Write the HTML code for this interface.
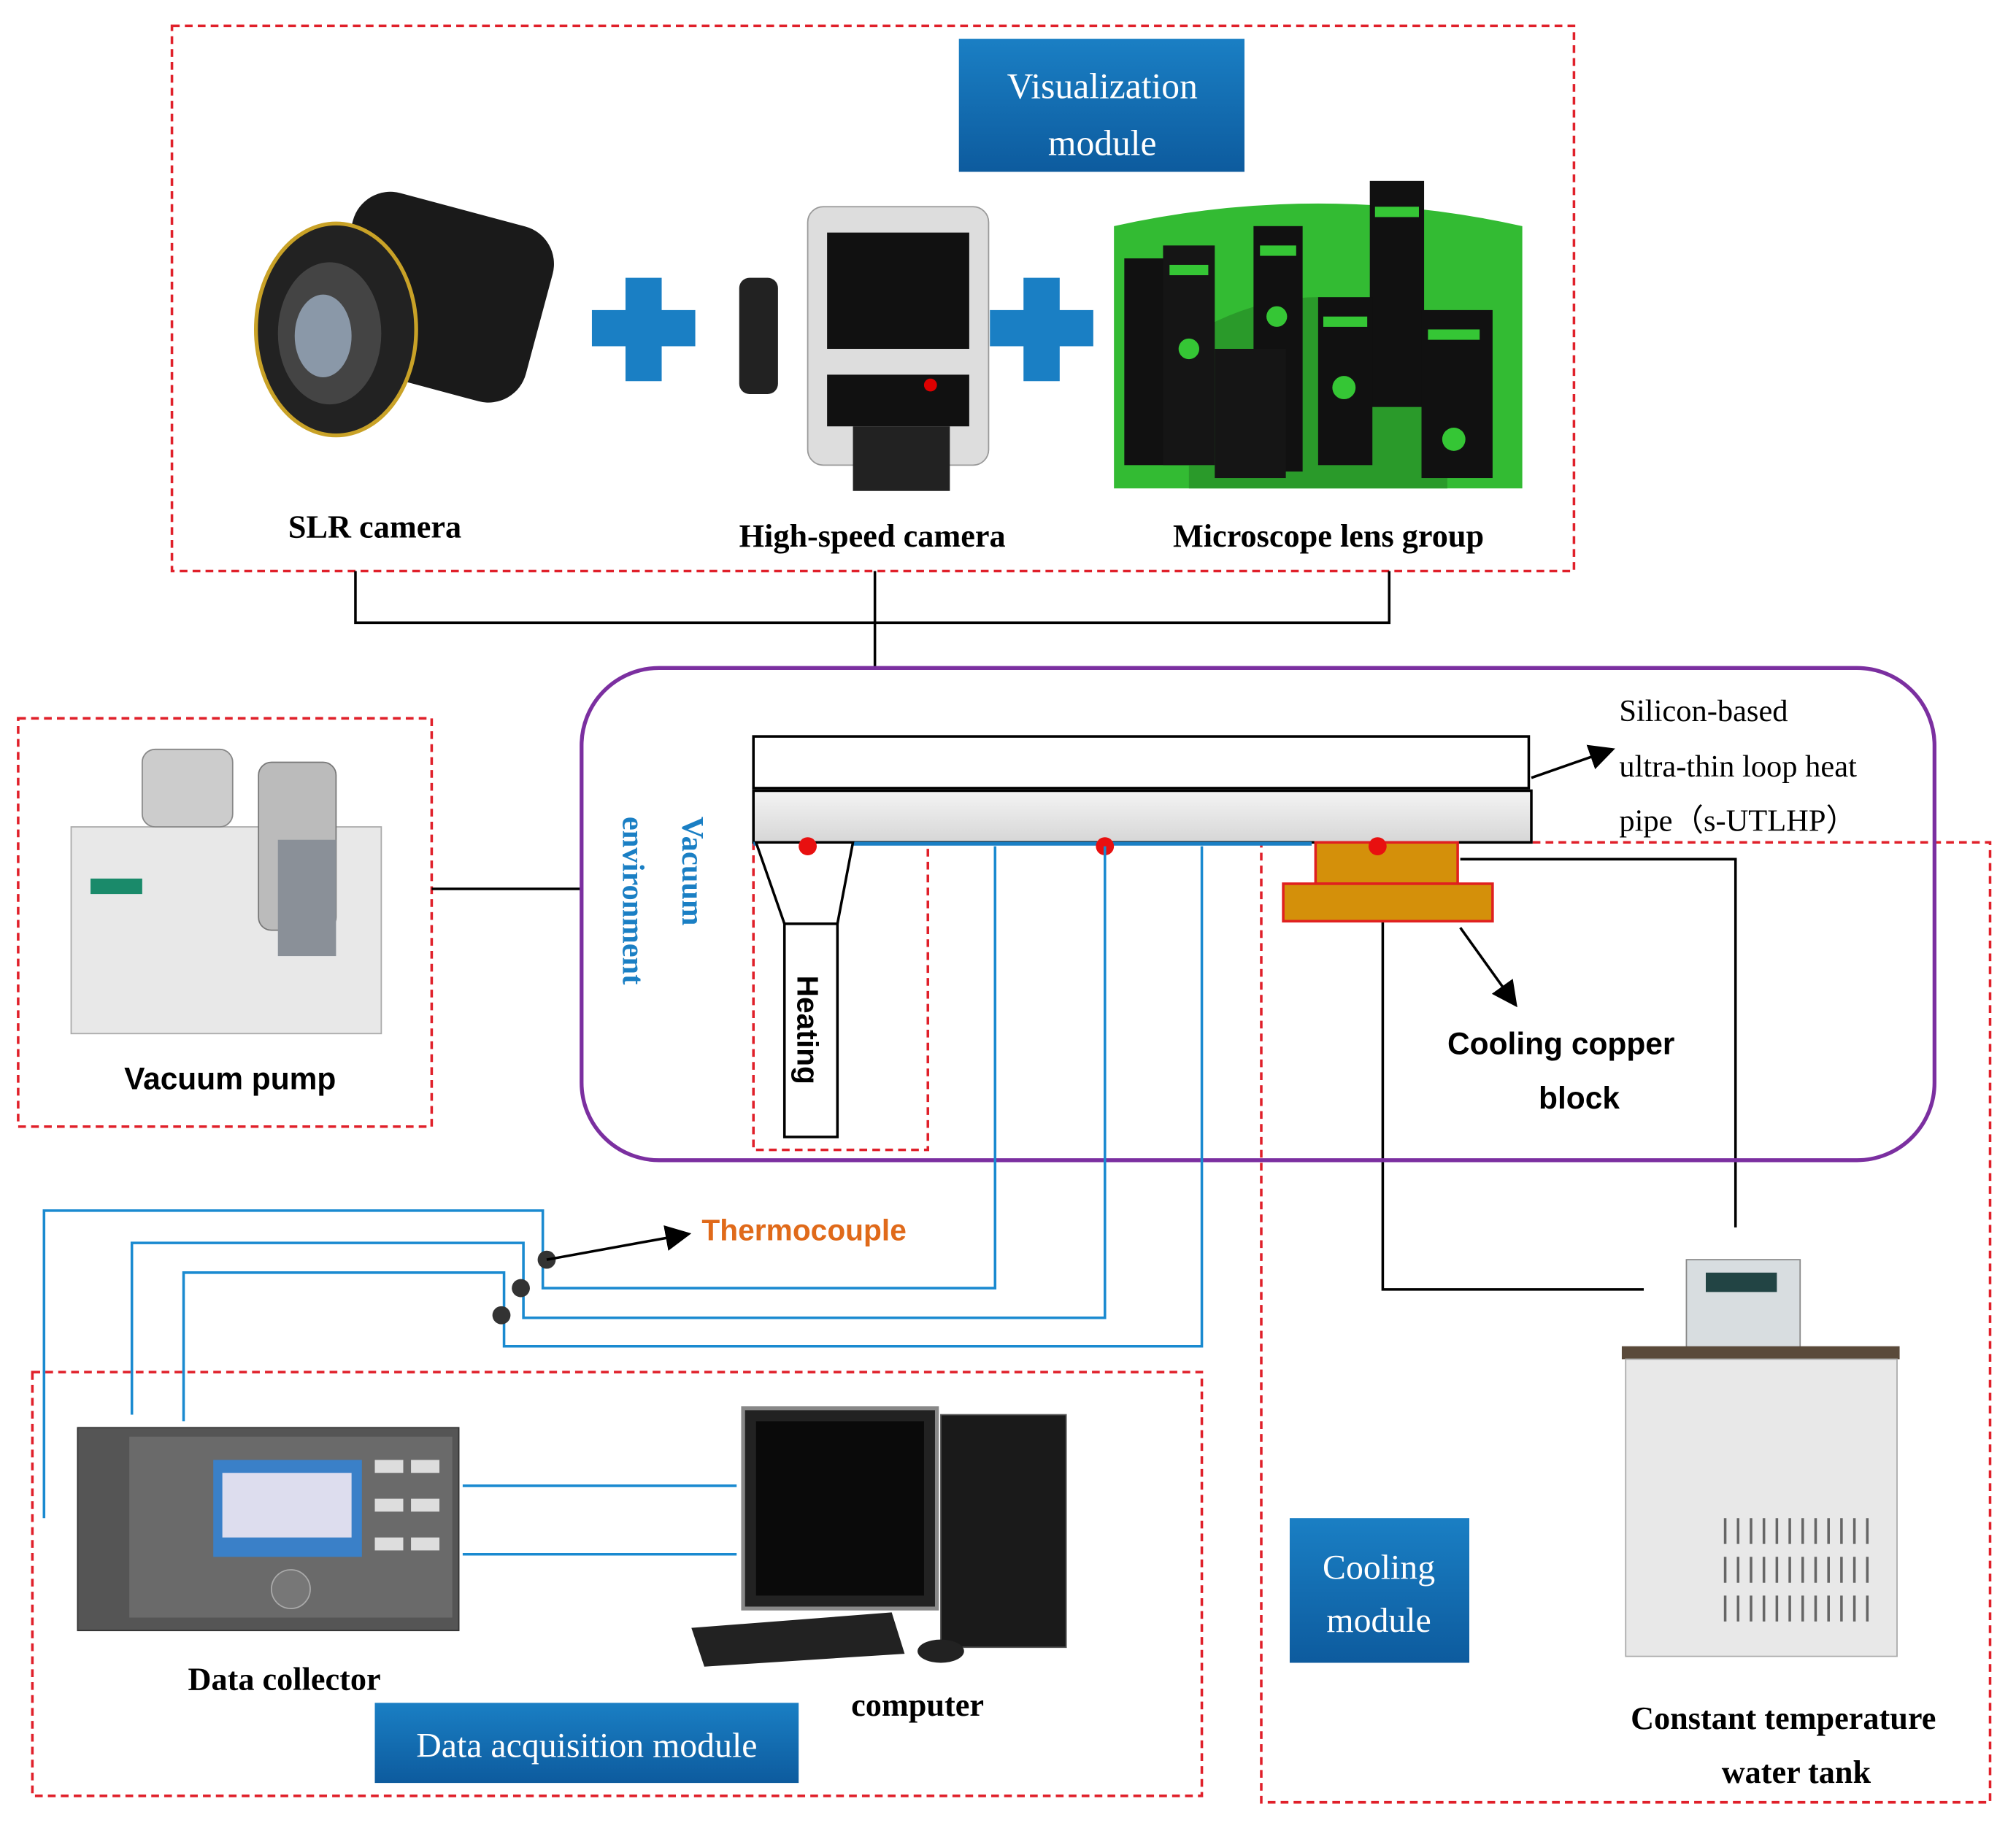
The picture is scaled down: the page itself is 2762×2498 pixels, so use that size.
<!DOCTYPE html>
<html><head><meta charset="utf-8"><style>
html,body{margin:0;padding:0;background:#fff}
svg{display:block}
.s{font-family:"Liberation Serif",serif;font-weight:bold}
.a{font-family:"Liberation Sans",sans-serif;font-weight:bold}
</style></head><body>
<svg width="2762" height="2498" viewBox="0 0 1560 1411" xmlns="http://www.w3.org/2000/svg">
<defs>
<linearGradient id="bl" x1="0" y1="0" x2="0" y2="1"><stop offset="0" stop-color="#1a7fc4"/><stop offset="1" stop-color="#0d5b9e"/></linearGradient>
<linearGradient id="gr" x1="0" y1="0" x2="0" y2="1"><stop offset="0" stop-color="#f4f4f4"/><stop offset="1" stop-color="#d6d6d6"/></linearGradient>
<marker id="ar" markerWidth="10" markerHeight="10" refX="9" refY="5" orient="auto"><path d="M0,0 L10,5 L0,10 z" fill="#000"/></marker>
</defs>
<g fill="none" stroke="#e0202a" stroke-width="2" stroke-dasharray="6,4">
<rect x="133" y="20" width="1085" height="422"/>
<rect x="14" y="556" width="320" height="316"/>
<rect x="583" y="652" width="135" height="238"/>
<rect x="976" y="652" width="564" height="743"/>
<rect x="25" y="1062" width="905" height="328"/>
</g>
<rect x="742" y="30" width="221" height="103" fill="url(#bl)"/>
<text x="853" y="76" text-anchor="middle" font-family="Liberation Serif" font-size="28" fill="#fff">Visualization</text>
<text x="853" y="120" text-anchor="middle" font-family="Liberation Serif" font-size="28" fill="#fff">module</text>
<!-- SLR -->
<g>
<rect x="260" y="160" width="160" height="140" rx="30" fill="#1a1a1a" transform="rotate(15 340 230)"/>
<ellipse cx="260" cy="255" rx="62" ry="82" fill="#222" stroke="#c9a227" stroke-width="3"/>
<ellipse cx="255" cy="258" rx="40" ry="55" fill="#444"/>
<ellipse cx="250" cy="260" rx="22" ry="32" fill="#8a98a8"/>
</g>
<g fill="#1a7fc4"><rect x="458" y="240" width="80" height="28"/><rect x="484" y="215" width="28" height="80"/>
<rect x="766" y="240" width="80" height="28"/><rect x="792" y="215" width="28" height="80"/></g>
<!-- highspeed -->
<g>
<rect x="625" y="160" width="140" height="200" rx="12" fill="#ddd" stroke="#999"/>
<rect x="640" y="180" width="110" height="90" fill="#111"/>
<rect x="640" y="290" width="110" height="40" fill="#111"/>
<rect x="660" y="330" width="75" height="50" fill="#222"/>
<rect x="572" y="215" width="30" height="90" rx="8" fill="#222"/>
<circle cx="720" cy="298" r="5" fill="#d00"/>
</g>
<!-- microscope -->
<g>
<path d="M862 175 Q1020 140 1178 175 L1178 378 L862 378 Z" fill="#33bb33"/>
<path d="M920 260 Q1020 200 1120 260 L1120 378 L920 378 Z" fill="#2a9a2a"/>
<rect x="870" y="200" width="50" height="160" fill="#111"/><rect x="900" y="190" width="40" height="170" fill="#151515"/>
<rect x="970" y="175" width="38" height="190" fill="#111"/><rect x="1060" y="140" width="42" height="175" fill="#111"/>
<rect x="1020" y="230" width="42" height="130" fill="#111"/><rect x="1100" y="240" width="55" height="130" fill="#111"/>
<rect x="940" y="270" width="55" height="100" fill="#151515"/>
<g fill="#35c635"><rect x="905" y="205" width="30" height="8"/><rect x="975" y="190" width="28" height="8"/><rect x="1064" y="160" width="34" height="8"/><rect x="1024" y="245" width="34" height="8"/><rect x="1105" y="255" width="40" height="8"/><circle cx="920" cy="270" r="8"/><circle cx="988" cy="245" r="8"/><circle cx="1040" cy="300" r="9"/><circle cx="1125" cy="340" r="9"/></g>
</g>
<text x="290" y="416" text-anchor="middle" class="s" font-size="25">SLR camera</text>
<text x="675" y="423" text-anchor="middle" class="s" font-size="25">High-speed camera</text>
<text x="1028" y="423" text-anchor="middle" class="s" font-size="25">Microscope lens group</text>
<g stroke="#000" stroke-width="2" fill="none">
<path d="M275 442 V482 H1075 V442 M677 442 V518"/>
<path d="M334 688 H450"/>
<path d="M1130 665 H1343 V950"/>
<path d="M1070 713 V998 H1272"/>
</g>
<rect x="450" y="517" width="1047" height="381" rx="60" fill="none" stroke="#7b2fa0" stroke-width="3"/>
<!-- vacuum pump -->
<g>
<rect x="55" y="640" width="240" height="160" fill="#e8e8e8" stroke="#aaa"/>
<rect x="70" y="680" width="40" height="12" fill="#1a8a6a"/>
<rect x="110" y="580" width="70" height="60" rx="10" fill="#ccc" stroke="#888"/>
<rect x="200" y="590" width="60" height="130" rx="10" fill="#bbb" stroke="#777"/>
<rect x="215" y="650" width="45" height="90" fill="#8a9098"/>
</g>
<text x="178" y="843" text-anchor="middle" class="a" font-size="24">Vacuum pump</text>
<!-- heat pipe -->
<rect x="583" y="570" width="600" height="40" fill="#fff" stroke="#000" stroke-width="2"/>
<rect x="583" y="612" width="602" height="40" fill="url(#gr)" stroke="#000" stroke-width="2"/>
<line x1="583" y1="653" x2="1015" y2="653" stroke="#1a7fc4" stroke-width="3"/>
<line x1="1185" y1="602" x2="1248" y2="580" stroke="#000" stroke-width="2" marker-end="url(#ar)"/>
<g font-family="Liberation Serif" font-size="24"><text x="1253" y="558">Silicon-based</text><text x="1253" y="601">ultra-thin loop heat</text><text x="1253" y="643">pipe（s-UTLHP）</text></g>
<g fill="#1a7fc4" class="s" font-size="24">
<text transform="translate(528 632) rotate(90)">Vacuum</text>
<text transform="translate(482 632) rotate(90)">environment</text></g>
<path d="M585 652 L660 652 L648 715 L607 715 Z" fill="#fff" stroke="#000" stroke-width="2"/>
<rect x="607" y="715" width="41" height="165" fill="#fff" stroke="#000" stroke-width="2"/>
<text transform="translate(617 755) rotate(90)" class="a" font-size="23">Heating</text>
<rect x="1018" y="652" width="110" height="32" fill="#d4900a" stroke="#e02020" stroke-width="2"/>
<rect x="993" y="684" width="162" height="29" fill="#d4900a" stroke="#e02020" stroke-width="2"/>
<line x1="1130" y1="718" x2="1173" y2="778" stroke="#000" stroke-width="2" marker-end="url(#ar)"/>
<text x="1208" y="816" text-anchor="middle" class="a" font-size="24">Cooling copper</text>
<text x="1222" y="858" text-anchor="middle" class="a" font-size="24">block</text>
<g fill="#e81010"><circle cx="625" cy="655" r="7"/><circle cx="855" cy="655" r="7"/><circle cx="1066" cy="655" r="7"/></g>
<!-- wires -->
<g stroke="#1a8ad0" stroke-width="2" fill="none">
<path d="M34 1175 V937 H420 V997 H770 V655"/>
<path d="M102 1095 V962 H405 V1020 H855 V655"/>
<path d="M142 1100 V985 H390 V1042 H930 V655"/>
<path d="M358 1150 H570 M358 1203 H570"/>
</g>
<g fill="#333"><circle cx="423" cy="975" r="7"/><circle cx="403" cy="997" r="7"/><circle cx="388" cy="1018" r="7"/></g>
<line x1="423" y1="975" x2="533" y2="955" stroke="#000" stroke-width="2" marker-end="url(#ar)"/>
<text x="543" y="960" class="a" font-size="23" fill="#e06a1a">Thermocouple</text>
<!-- data collector -->
<g>
<rect x="60" y="1105" width="295" height="157" fill="#555" stroke="#333"/>
<rect x="100" y="1112" width="250" height="140" fill="#6a6a6a"/>
<rect x="165" y="1130" width="115" height="75" fill="#3a80c8"/><rect x="172" y="1140" width="100" height="50" fill="#dde"/>
<g fill="#ddd"><rect x="290" y="1130" width="22" height="10"/><rect x="318" y="1130" width="22" height="10"/><rect x="290" y="1160" width="22" height="10"/><rect x="318" y="1160" width="22" height="10"/><rect x="290" y="1190" width="22" height="10"/><rect x="318" y="1190" width="22" height="10"/></g>
<circle cx="225" cy="1230" r="15" fill="#777" stroke="#aaa"/>
</g>
<text x="220" y="1308" text-anchor="middle" class="s" font-size="25">Data collector</text>
<!-- computer -->
<g>
<rect x="575" y="1090" width="150" height="155" fill="#222" stroke="#888" stroke-width="3"/>
<rect x="585" y="1100" width="130" height="135" fill="#0a0a0a"/>
<rect x="728" y="1095" width="97" height="180" fill="#1a1a1a" stroke="#555"/>
<path d="M535 1260 L690 1248 L700 1280 L545 1290 Z" fill="#222"/>
<ellipse cx="728" cy="1278" rx="18" ry="9" fill="#222"/>
</g>
<text x="710" y="1328" text-anchor="middle" class="s" font-size="25">computer</text>
<rect x="290" y="1318" width="328" height="62" fill="url(#bl)"/>
<text x="454" y="1360" text-anchor="middle" font-family="Liberation Serif" font-size="27" fill="#fff">Data acquisition module</text>
<rect x="998" y="1175" width="139" height="112" fill="url(#bl)"/>
<text x="1067" y="1222" text-anchor="middle" font-family="Liberation Serif" font-size="27" fill="#fff">Cooling</text>
<text x="1067" y="1263" text-anchor="middle" font-family="Liberation Serif" font-size="27" fill="#fff">module</text>
<!-- water tank -->
<g>
<rect x="1305" y="975" width="88" height="72" fill="#d8dde0" stroke="#888"/>
<rect x="1320" y="985" width="55" height="15" fill="#244"/>
<rect x="1255" y="1042" width="215" height="10" fill="#5a4a3a"/>
<rect x="1258" y="1052" width="210" height="230" fill="#e8e8e8" stroke="#aaa"/>
<g stroke="#666" stroke-width="2">
<path d="M1335 1175 v20 M1345 1175 v20 M1355 1175 v20 M1365 1175 v20 M1375 1175 v20 M1385 1175 v20 M1395 1175 v20 M1405 1175 v20 M1415 1175 v20 M1425 1175 v20 M1435 1175 v20 M1445 1175 v20"/>
<path d="M1335 1205 v20 M1345 1205 v20 M1355 1205 v20 M1365 1205 v20 M1375 1205 v20 M1385 1205 v20 M1395 1205 v20 M1405 1205 v20 M1415 1205 v20 M1425 1205 v20 M1435 1205 v20 M1445 1205 v20"/>
<path d="M1335 1235 v20 M1345 1235 v20 M1355 1235 v20 M1365 1235 v20 M1375 1235 v20 M1385 1235 v20 M1395 1235 v20 M1405 1235 v20 M1415 1235 v20 M1425 1235 v20 M1435 1235 v20 M1445 1235 v20"/>
</g></g>
<text x="1380" y="1338" text-anchor="middle" class="s" font-size="25">Constant  temperature</text>
<text x="1390" y="1380" text-anchor="middle" class="s" font-size="25">water tank</text>
</svg>
</body></html>
